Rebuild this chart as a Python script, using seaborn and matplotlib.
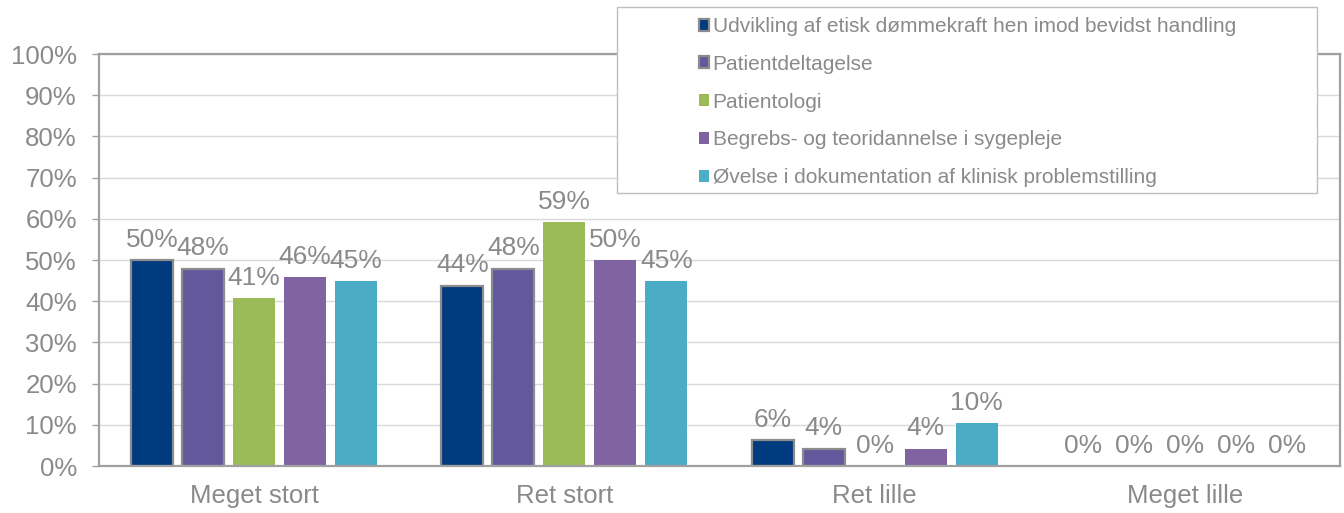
import pandas as pd
import matplotlib
matplotlib.use("Agg")
import matplotlib.pyplot as plt
import seaborn as sns
from matplotlib.patches import Patch, Rectangle

# Data (andel i %)
KATEGORIER = ["Meget stort", "Ret stort", "Ret lille", "Meget lille"]
SERIER = [
    "Udvikling af etisk dømmekraft hen imod bevidst handling",
    "Patientdeltagelse",
    "Patientologi",
    "Begrebs- og teoridannelse i sygepleje",
    "Øvelse i dokumentation af klinisk problemstilling",
]
ETISK = [50.0, 43.8, 6.3, 0.0]
DELTAGELSE = [47.9, 47.9, 4.2, 0.0]
PATIENTOLOGI = [40.8, 59.2, 0.0, 0.0]
BEGREBER = [45.8, 50.0, 4.2, 0.0]
DOKUMENTATION = [44.8, 44.8, 10.4, 0.0]

FARVER = ["#003B7F", "#64589D", "#9BBB59", "#8064A2", "#4BACC6"]
KANT = [True, True, False, False, False]  # de to første serier har grå kant
GRAA_TEKST = "#8A8A8A"
GRAA_LINJE = "#A0A0A0"

# Byg long-format tabel til seaborn
rows = []
for serie, vaerdier in zip(SERIER, [ETISK, DELTAGELSE, PATIENTOLOGI, BEGREBER, DOKUMENTATION]):
    for kat, v in zip(KATEGORIER, vaerdier):
        rows.append({"kategori": kat, "serie": serie, "andel": v})
df = pd.DataFrame(rows)

sns.set_style("white")
plt.rcParams["font.family"] = ["Liberation Sans", "DejaVu Sans"]

fig = plt.figure(figsize=(13.44, 5.13), dpi=100)
ax = fig.add_axes([99 / 1344, 47 / 513, 1241 / 1344, 412 / 513])

sns.barplot(data=df, x="kategori", y="andel", hue="serie",
            order=KATEGORIER, hue_order=SERIER, palette=FARVER,
            width=0.822, gap=0.18, saturation=1, legend=False, ax=ax)

# Kanter og dataetiketter
for i, container in enumerate(ax.containers):
    for bar in container:
        if KANT[i] and bar.get_height() > 0:
            bar.set_edgecolor("#8C8C8C")
            bar.set_linewidth(1.6)
        else:
            bar.set_linewidth(0)
    labels = [f"{b.get_height():.0f}%" for b in container]
    ax.bar_label(container, labels=labels, padding=6, color=GRAA_TEKST, fontsize=19)

# Akser
ax.set_ylim(0, 100)
ax.set_yticks(range(0, 101, 10))
ax.set_yticklabels([f"{t}%" for t in range(0, 101, 10)])
ax.set_xlabel("")
ax.set_ylabel("")
ax.grid(axis="y", color="#D9D9D9", linewidth=1)
ax.set_axisbelow(True)
for side in ["left", "right", "top", "bottom"]:
    ax.spines[side].set_visible(True)
    ax.spines[side].set_color(GRAA_LINJE)
    ax.spines[side].set_linewidth(1.6)
ax.tick_params(axis="y", length=5, width=1, color=GRAA_LINJE, pad=11,
               labelsize=18.5, labelcolor=GRAA_TEKST, left=True)
ax.tick_params(axis="x", length=0, pad=13, labelsize=18.5, labelcolor=GRAA_TEKST)

# Legende med egen ramme (Excel-agtig placering)
fig.patches.append(Rectangle((617 / 1344, 1 - 193 / 513), 700 / 1344, 186 / 513,
                             transform=fig.transFigure, facecolor="white",
                             edgecolor="#BFBFBF", linewidth=1, zorder=1))
handles = []
for farve, kant in zip(FARVER, KANT):
    if kant:
        handles.append(Patch(facecolor=farve, edgecolor="#8C8C8C", linewidth=1.6))
    else:
        handles.append(Patch(facecolor=farve, edgecolor="none"))
leg = fig.legend(handles, SERIER, loc="upper left",
                 bbox_to_anchor=(699 / 1344, 1 - 17 / 513),
                 frameon=False, fontsize=15, borderpad=0, borderaxespad=0,
                 handlelength=0.5, handleheight=0.5, handletextpad=0.15,
                 labelspacing=0.9)
for txt in leg.get_texts():
    txt.set_color(GRAA_TEKST)

fig.savefig("out.png", dpi=100)
